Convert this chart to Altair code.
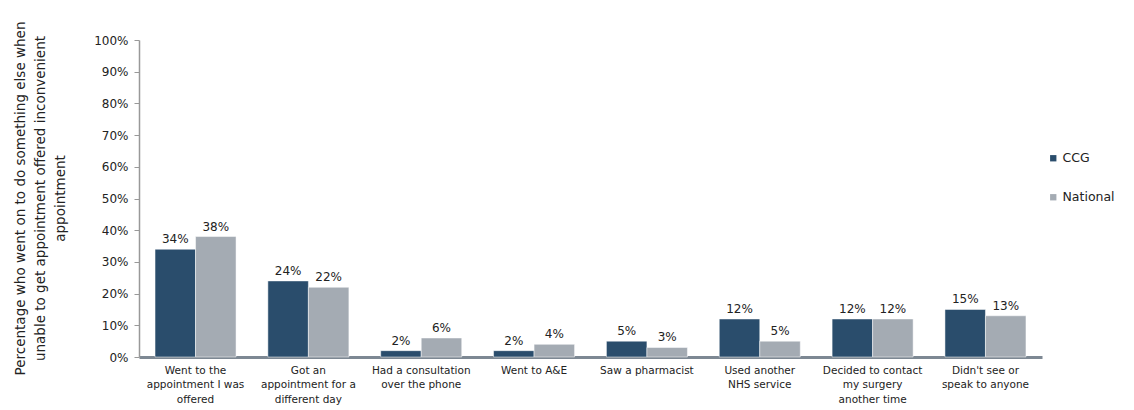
import altair as alt
import pandas as pd

categories = [
    ["Went to the", "appointment I was", "offered"],
    ["Got an", "appointment for a", "different day"],
    ["Had a consultation", "over the phone"],
    ["Went to A&E"],
    ["Saw a pharmacist"],
    ["Used another", "NHS service"],
    ["Decided to contact", "my surgery", "another time"],
    ["Didn't see or", "speak to anyone"],
]
cat_keys = [" ".join(c) for c in categories]
ccg = [0.34, 0.24, 0.02, 0.02, 0.05, 0.12, 0.12, 0.15]
national = [0.38, 0.22, 0.06, 0.04, 0.03, 0.05, 0.12, 0.13]
series = ["CCG", "National"]
colors = ["#2a4d6c", "#a4abb3"]
y_ticks = [0, 10, 20, 30, 40, 50, 60, 70, 80, 90, 100]

rows = []
for k, a, b in zip(cat_keys, ccg, national):
    rows.append({"cat": k, "series": "CCG", "value": a * 100})
    rows.append({"cat": k, "series": "National", "value": b * 100})
df = pd.DataFrame(rows)

cat_labels = ["|".join(c) for c in categories]
mapping = "{" + ",".join(f'"{k}": "{l}"' for k, l in zip(cat_keys, cat_labels)) + "}"

font = "DejaVu Sans"

x = alt.X(
    "cat:N",
    sort=cat_keys,
    scale=alt.Scale(paddingInner=0.282, paddingOuter=0.142),
    axis=alt.Axis(
        title=None,
        labelAngle=0,
        labelExpr=f"split({mapping}[datum.label], '|')",
        labelFont=font,
        labelFontSize=10.5,
        labelColor="#222222",
        labelLineHeight=14.5,
        labelPadding=8,
        ticks=False,
        domainColor="#7d8893",
        domainWidth=3,
    ),
)

y = alt.Y(
    "value:Q",
    scale=alt.Scale(domain=[0, 100]),
    axis=alt.Axis(
        values=y_ticks,
        labelExpr="datum.value + '%'",
        labelOverlap=False,
        grid=False,
        labelFont=font,
        labelFontSize=12,
        labelColor="#222222",
        labelPadding=6,
        tickSize=5,
        tickColor="#999999",
        domainColor="#999999",
        domainWidth=1.5,
        title=[
            "Percentage who went on to do something else when",
            "unable to get appointment offered inconvenient",
            "appointment",
        ],
        titleFont=font,
        titleFontSize=13.5,
        titleFontWeight="normal",
        titleColor="#222222",
        titleLineHeight=20,
        titleAngle=-90,
        titleX=-126,
        titleY=158,
        titleAlign="center",
        titleBaseline="top",
    ),
)

base = alt.Chart(df).encode(
    x=x,
    y=y,
    xOffset=alt.XOffset("series:N", sort=series),
)

bars = base.mark_bar(stroke="white", strokeWidth=0.5).encode(
    color=alt.Color(
        "series:N",
        sort=series,
        scale=alt.Scale(domain=series, range=colors),
        legend=alt.Legend(
            title=None,
            orient="none",
            legendX=908,
            legendY=112,
            symbolType="square",
            symbolSize=40,
            symbolStrokeWidth=0,
            labelFont=font,
            labelFontSize=12.5,
            labelColor="#222222",
            rowPadding=26,
            labelOffset=3,
        ),
    ),
)

labels = base.mark_text(dy=-10, font=font, fontSize=12, color="#222222").encode(
    text=alt.Text("label:N"),
).transform_calculate(label="round(datum.value) + '%'")

chart = (
    alt.layer(bars, labels)
    .properties(
        width=903,
        height=317,
        background="white",
        autosize=alt.AutoSizeParams(type="none"),
        padding={"left": 139, "top": 40, "right": 92, "bottom": 53},
    )
    .configure_view(strokeWidth=0, stroke=None)
    .configure_axisY(labelOverlap=False)
)

chart.save("out.html", embed_options={"renderer": "svg", "actions": False})
